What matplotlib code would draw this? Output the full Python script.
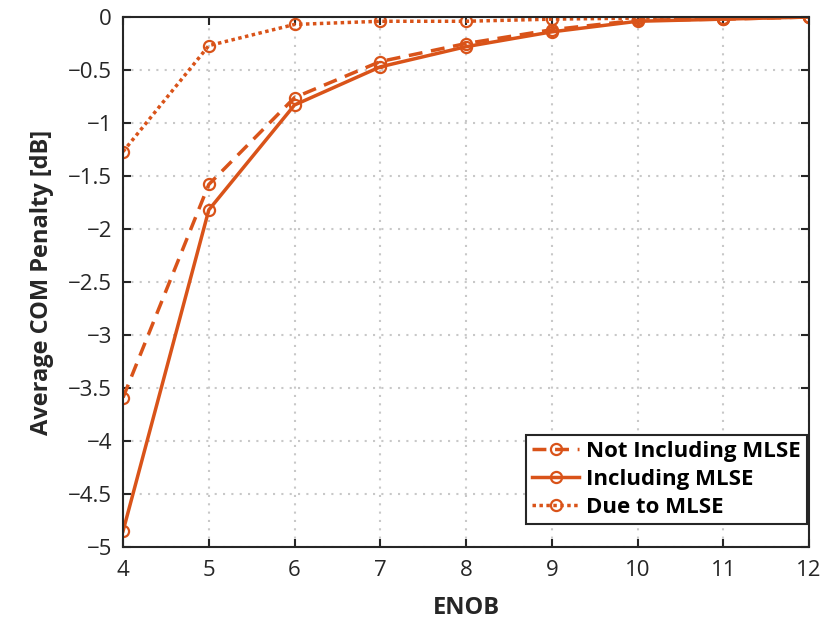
import matplotlib
matplotlib.use("Agg")
import matplotlib.pyplot as plt

plt.rcParams['font.family'] = ['Open Sans', 'DejaVu Sans']

enob = [4, 5, 6, 7, 8, 9, 10, 11, 12]
not_including = [-3.59, -1.58, -0.76, -0.42, -0.25, -0.12, -0.03, -0.02, 0.0]
including = [-4.85, -1.82, -0.83, -0.47, -0.28, -0.14, -0.04, -0.02, 0.0]
due_to_mlse = [-1.27, -0.27, -0.07, -0.04, -0.04, -0.02, -0.01, -0.01, 0.0]

y_ticks = [0, -0.5, -1, -1.5, -2, -2.5, -3, -3.5, -4, -4.5, -5]
y_tick_labels = ['0', '\u22120.5', '\u22121', '\u22121.5', '\u22122', '\u22122.5',
                 '\u22123', '\u22123.5', '\u22124', '\u22124.5', '\u22125']

color = '#D95319'
dark = '#262626'

fig = plt.figure(figsize=(8.23, 6.19), dpi=100)
ax = fig.add_axes([0.1495, 0.1163, 0.8335, 0.8562])

style = dict(color=color, marker='o', markersize=8, markerfacecolor='none',
             markeredgewidth=1.6, linewidth=2.5)
ax.plot(enob, not_including, linestyle=(0, (4, 2.5)), label='Not Including MLSE', **style)
ax.plot(enob, including, linestyle='-', label='Including MLSE', **style)
ax.plot(enob, due_to_mlse, linestyle=(0, (1, 1)), label='Due to MLSE', **style)

ax.set_xlim(4, 12)
ax.set_ylim(-5, 0)
ax.set_xticks(range(4, 13))
ax.set_yticks(y_ticks)
ax.set_yticklabels(y_tick_labels)
ax.grid(True, linestyle=(0, (1, 3)), color='#c8c8c8', linewidth=1.5)
ax.tick_params(direction='in', top=True, right=True, length=6, width=1.5,
               labelsize=16, colors=dark)
ax.tick_params(axis='x', pad=9)
ax.tick_params(axis='y', pad=8)
for s in ax.spines.values():
    s.set_linewidth(1.5)
    s.set_color(dark)

ax.set_xlabel('ENOB', fontsize=17, fontweight='bold', color=dark, labelpad=11)
ax.set_ylabel('Average COM Penalty [dB]', fontsize=17, fontweight='bold', color=dark, labelpad=10)

leg = ax.legend(loc='lower right', prop={'weight': 'bold', 'size': 16},
                fancybox=False, edgecolor=dark, framealpha=1,
                handlelength=2.1, handletextpad=0.3, borderpad=0.3, labelspacing=0.3,
                borderaxespad=0, bbox_to_anchor=(0.997, 0.043))
leg.get_frame().set_linewidth(1.5)

fig.savefig('out.png', dpi=100)
